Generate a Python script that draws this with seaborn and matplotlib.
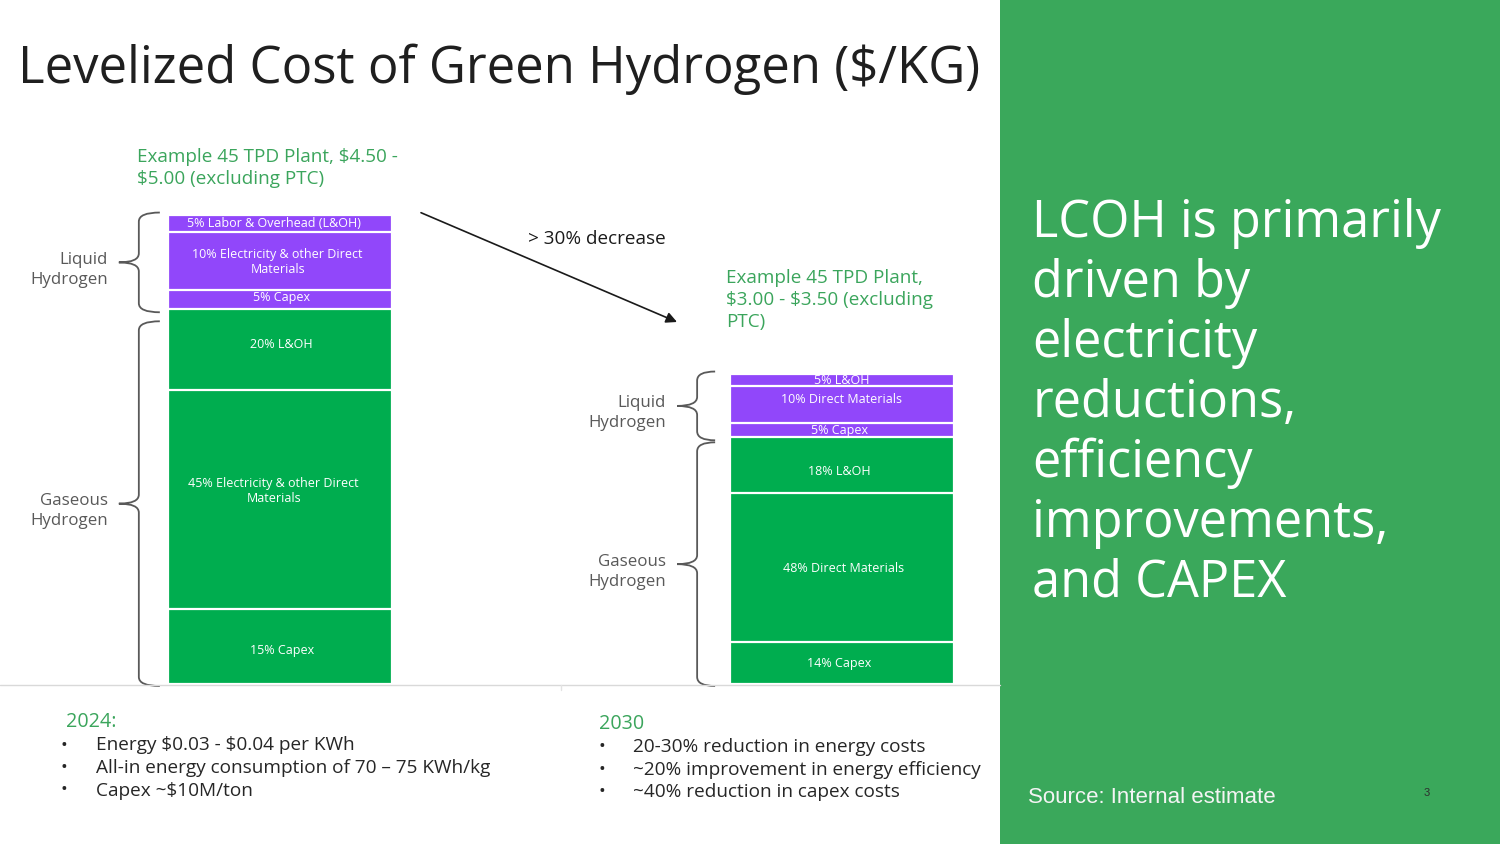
import numpy as np
import pandas as pd
import matplotlib
matplotlib.use("Agg")
import matplotlib.pyplot as plt
import matplotlib.transforms as mtransforms
from matplotlib.path import Path
from matplotlib.patches import PathPatch, Rectangle
import seaborn as sns

# ---------------- data ----------------
years = ["2024", "2030"]
# stacked segment heights (relative units, 2024 bar = 100), bottom -> top
heights_2024 = [16.0, 46.7, 17.2, 4.1, 12.3, 3.8]
heights_2030 = [8.9, 31.8, 11.9, 3.1, 7.8, 2.7]
segment_state = ["Gaseous", "Gaseous", "Gaseous", "Liquid", "Liquid", "Liquid"]
labels_2024 = ["15% Capex",
               "45% Electricity & other Direct\nMaterials",
               "20% L&OH",
               "5% Capex",
               "10% Electricity & other Direct\nMaterials",
               "5% Labor & Overhead (L&OH)"]
labels_2030 = ["14% Capex",
               "48% Direct Materials",
               "18% L&OH",
               "5% Capex",
               "10% Direct Materials",
               "5% L&OH"]
plant_notes = ["Example 45 TPD Plant, $4.50 -\n$5.00 (excluding PTC)",
               "Example 45 TPD Plant,\n$3.00 - $3.50 (excluding\nPTC)"]
decrease_note = "> 30% decrease"
title = "Levelized Cost of Green Hydrogen ($/KG)"
bullets_2024 = ["Energy $0.03 - $0.04 per KWh",
                "All-in energy consumption of 70 \u2013 75 KWh/kg",
                "Capex ~$10M/ton"]
bullets_2030 = ["20-30% reduction in energy costs",
                "~20% improvement in energy efficiency",
                "~40% reduction in capex costs"]
panel_lines = ["LCOH is primarily", "driven by", "electricity", "reductions,",
               "efficiency", "improvements,", "and CAPEX"]
source_note = "Source: Internal estimate"
page_number = "3"

# ---------------- style ----------------
GREEN_BAR = "#00AD4F"
PURPLE_BAR = "#9147FA"
PANEL_GREEN = "#3AA85B"
TEXT_GREEN = "#3BA55C"
GRAY = "#595959"
DARK = "#1F1F1F"
state_color = {"Gaseous": GREEN_BAR, "Liquid": PURPLE_BAR}
BAR_W = 0.398
W, H = 1500, 844

sns.set_theme(style="white")
plt.rcParams["font.family"] = ["Open Sans", "DejaVu Sans"]

fig = plt.figure(figsize=(W / 100, H / 100), dpi=100)
fig.patch.set_facecolor("white")

# overlay axes in pixel coordinates (for slide decoration / text)
ov = fig.add_axes([0, 0, 1, 1], zorder=0)
ov.set_xlim(0, W)
ov.set_ylim(H, 0)
ov.axis("off")
ov.patch.set_alpha(0)


def txt(x, y, s, **kw):
    kw.setdefault("ha", "left")
    kw.setdefault("va", "baseline")
    return ov.text(x, y, s, parse_math=False, **kw)


# bar axes
ax = fig.add_axes([26.7 / W, 160 / H, 955.9 / W, 469 / H], zorder=1)
ax.patch.set_alpha(0)

hmat = np.array([heights_2024, heights_2030])
cum = hmat.cumsum(axis=1)
seg_colors = [state_color[s] for s in segment_state]
for k in range(len(segment_state) - 1, -1, -1):
    sns.barplot(x=years, y=cum[:, k], order=years, color=seg_colors[k],
                width=BAR_W, saturation=1, errorbar=None,
                edgecolor="white", linewidth=1.6, ax=ax)
ax.set_xlim(-0.45, 1.25)
ax.set_ylim(0, 100)
ax.axis("off")

# segment labels
nudges = [[4, -8, -5, -2, 1, 0], [0, 1, 6, 0, -5, 1]]
shifts = [[2, -6, 2, 2, -2, -6], [-3, 2, -3, -3, -1, 0]]
for i, labs in enumerate([labels_2024, labels_2030]):
    for k, lab in enumerate(labs):
        bottom = cum[i, k] - hmat[i, k]
        yc = bottom + hmat[i, k] / 2
        lines = lab.split("\n")
        n = len(lines)
        for j, line in enumerate(lines):
            off = ((n - 1) / 2 - j) * 15 - nudges[i][k]
            tr = mtransforms.offset_copy(ax.transData, fig=fig, x=shifts[i][k], y=off, units="dots")
            ax.text(i, yc, line, transform=tr, ha="center", va="center",
                    color="white", fontsize=9, parse_math=False)


def to_px(x, y):
    d = ax.transData.transform((x, y))
    return d[0], H - d[1]


def brace(x_end, x_v, x_tip, y0, y1, r=9):
    ym = (y0 + y1) / 2
    verts = [(x_end, y0), (x_v, y0), (x_v, y0 + r),
             (x_v, ym - r),
             (x_v, ym), (x_tip, ym),
             (x_v, ym), (x_v, ym + r),
             (x_v, y1 - r),
             (x_v, y1), (x_end, y1)]
    codes = [Path.MOVETO, Path.CURVE3, Path.CURVE3, Path.LINETO,
             Path.CURVE3, Path.CURVE3, Path.CURVE3, Path.CURVE3,
             Path.LINETO, Path.CURVE3, Path.CURVE3]
    ov.add_patch(PathPatch(Path(verts, codes), fill=False, edgecolor=GRAY, lw=1.3))
    return ym


brace_dx = [(-8, -29, -49), (-15, -33, -53)]
gas_gap = [12, 5]
for i in range(2):
    left_px = to_px(i - BAR_W / 2, 0)[0]
    e, v, t = [left_px + d for d in brace_dx[i]]
    top_px = to_px(i, cum[i, 5])[1]
    mid_px = to_px(i, cum[i, 2])[1]
    base_px = to_px(i, 0)[1]
    ym_l = brace(e, v, t, top_px - 2, mid_px + 3)
    ym_g = brace(e, v, t, mid_px + gas_gap[i], base_px + 2)
    for ym, word in [(ym_l, "Liquid"), (ym_g, "Gaseous")]:
        txt(t - 11, ym + 1.5, word, ha="right", color=GRAY, fontsize=12.2)
        txt(t - 11, ym + 21.5, "Hydrogen", ha="right", color=GRAY, fontsize=12.2)

# baseline rule under the bars
ov.plot([0, 1000], [685, 685], color="#D9D9D9", lw=1)
ov.plot([561, 561], [685, 690], color="#E3E3E3", lw=1)

# title
txt(17.5, 83.3, title, color=DARK, fontsize=36.6)

# plant notes
for j, line in enumerate(plant_notes[0].split("\n")):
    txt(137, 161.7 + 22 * j, line, color=TEXT_GREEN, fontsize=13.6)
for j, line in enumerate(plant_notes[1].split("\n")):
    txt(726, 282.7 + 22 * j, line, color=TEXT_GREEN, fontsize=13.6)

# decrease arrow
ov.annotate("", xy=(677, 322), xytext=(421, 212.7),
            arrowprops=dict(arrowstyle="-|>", color="#1A1A1A", lw=1.2,
                            mutation_scale=16, shrinkA=0, shrinkB=0))
txt(528, 244, decrease_note, color="#1A1A1A", fontsize=13.6)

# bottom notes
txt(66, 727.3, "2024:", color=TEXT_GREEN, fontsize=14.2)
for j, line in enumerate(bullets_2024):
    yb = 750.5 + 22.5 * j
    txt(61, yb, "\u2022", color="#262626", fontsize=13)
    txt(96, yb, line, color="#262626", fontsize=13.7)
txt(598.5, 729.3, "2030", color=TEXT_GREEN, fontsize=14.2)
for j, line in enumerate(bullets_2030):
    yb = 752.3 + 22.3 * j
    txt(598, yb, "\u2022", color="#262626", fontsize=13)
    txt(633, yb, line, color="#262626", fontsize=13.7)

# right panel
ov.add_patch(Rectangle((1000, 0), 500, H, facecolor=PANEL_GREEN, edgecolor="none"))
for j, line in enumerate(panel_lines):
    txt(1032.5, 236.7 + 60 * j, line, color="white", fontsize=36.4)
txt(1028.5, 803.3, source_note, color="#F4F4F4",
    fontsize=16, family=["Liberation Sans", "DejaVu Sans"])
txt(1424, 796, page_number, color="#2E2E2E",
    fontsize=8, family=["Liberation Sans", "DejaVu Sans"])

fig.savefig("out.png", dpi=100)
